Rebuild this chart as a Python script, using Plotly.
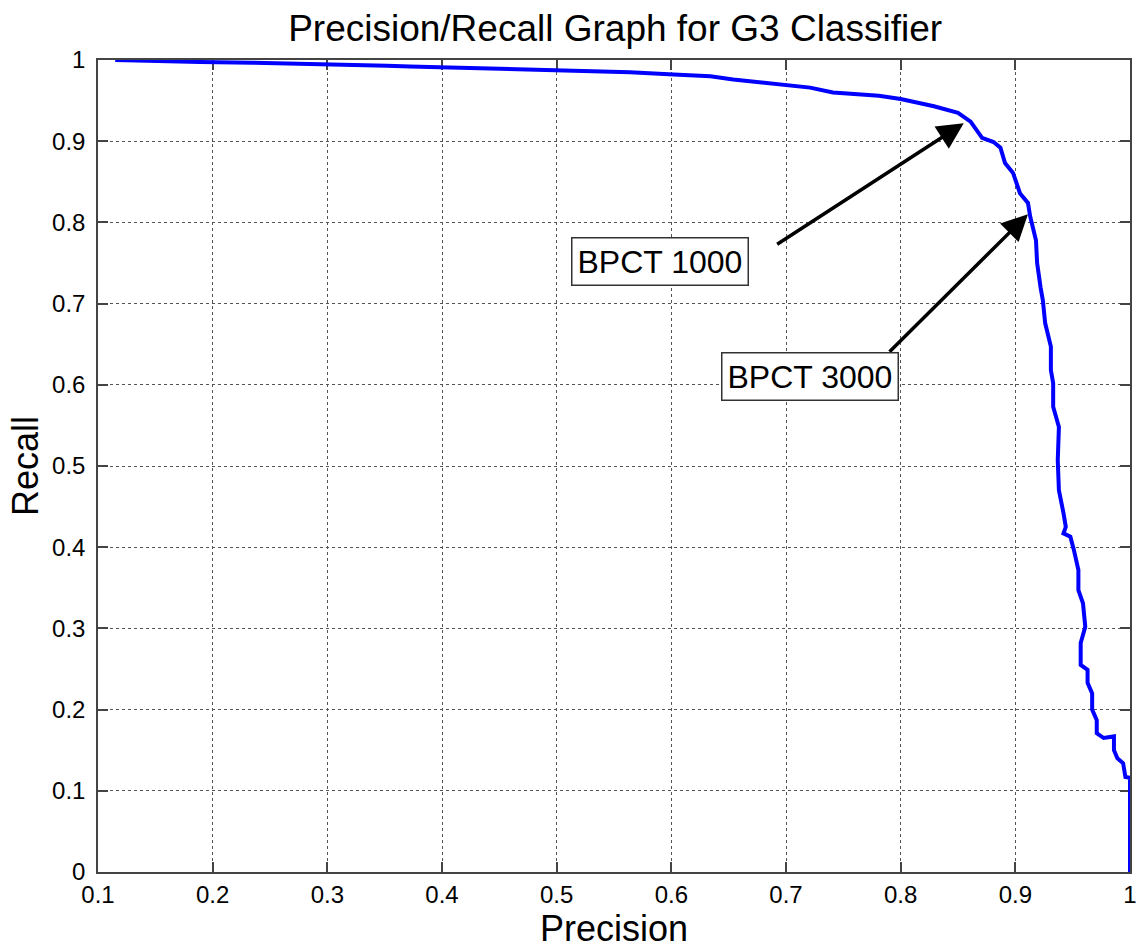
import plotly.graph_objects as go

precision = [0.115, 0.139, 0.189, 0.235, 0.285, 0.324, 0.352, 0.372, 0.401, 0.451,
             0.480, 0.514, 0.564, 0.602, 0.634, 0.654, 0.680, 0.701, 0.721, 0.741,
             0.781, 0.800, 0.829, 0.850, 0.861, 0.871, 0.881, 0.887, 0.891, 0.898,
             0.904, 0.911, 0.913, 0.918, 0.919, 0.922, 0.924, 0.926, 0.931, 0.931,
             0.933, 0.933, 0.938, 0.937, 0.938, 0.942, 0.944, 0.942, 0.948, 0.951,
             0.955, 0.955, 0.959, 0.961, 0.957, 0.957, 0.963, 0.963, 0.967, 0.967,
             0.971, 0.971, 0.977, 0.986, 0.986, 0.989, 0.994, 0.996, 1.0, 1.0]
recall = [1.0, 0.9988, 0.9975, 0.9966, 0.9954, 0.9942, 0.993, 0.992, 0.991, 0.990,
          0.988, 0.987, 0.985, 0.982, 0.980, 0.976, 0.972, 0.970, 0.966, 0.960,
          0.956, 0.952, 0.943, 0.935, 0.924, 0.904, 0.899, 0.892, 0.873, 0.861,
          0.836, 0.824, 0.807, 0.778, 0.750, 0.720, 0.704, 0.676, 0.647, 0.618,
          0.602, 0.573, 0.548, 0.507, 0.470, 0.442, 0.425, 0.417, 0.413, 0.397,
          0.372, 0.347, 0.331, 0.302, 0.282, 0.255, 0.249, 0.233, 0.220, 0.200,
          0.187, 0.171, 0.165, 0.167, 0.150, 0.140, 0.134, 0.117, 0.116, 0.0]

x_ticks = [0.1, 0.2, 0.3, 0.4, 0.5, 0.6, 0.7, 0.8, 0.9, 1.0]
x_tick_labels = ["0.1", "0.2", "0.3", "0.4", "0.5", "0.6", "0.7", "0.8", "0.9", "1"]
y_ticks = [0, 0.1, 0.2, 0.3, 0.4, 0.5, 0.6, 0.7, 0.8, 0.9, 1.0]
y_tick_labels = ["0", "0.1", "0.2", "0.3", "0.4", "0.5", "0.6", "0.7", "0.8", "0.9", "1"]

labels = ["BPCT 1000", "BPCT 3000"]
label_pos = [(0.590, 0.752), (0.721, 0.610)]
arrow_tail = [(0.691, 0.772), (0.789, 0.639)]
arrow_head = [(0.855, 0.922), (0.911, 0.810)]

FONT = "Liberation Sans, Arial, sans-serif"

fig = go.Figure()
fig.add_trace(go.Scatter(x=precision, y=recall, mode="lines",
                         line=dict(color="#0000FF", width=4), showlegend=False))

annotations = []
for (hx, hy), (tx, ty) in zip(arrow_head, arrow_tail):
    annotations.append(dict(x=hx, y=hy, ax=tx, ay=ty, xref="x", yref="y",
                            axref="x", ayref="y", text="", showarrow=True,
                            arrowhead=2, arrowsize=1.5, arrowwidth=3.5,
                            arrowcolor="black"))
for txt, (lx, ly) in zip(labels, label_pos):
    annotations.append(dict(x=lx, y=ly, xref="x", yref="y", text=txt,
                            showarrow=False, bgcolor="white",
                            bordercolor="#333333", borderwidth=1.5, borderpad=5,
                            font=dict(family=FONT, size=32, color="black")))

axis_common = dict(showline=True, linecolor="#444444", linewidth=1.5, mirror="ticks",
                   ticks="inside", ticklen=10, tickcolor="#444444", tickwidth=1.5,
                   showgrid=True, gridcolor="#555555", griddash="dot", gridwidth=1,
                   zeroline=False, layer="below traces", ticklabeloverflow="allow",
                   tickfont=dict(family=FONT, size=24, color="black"))

fig.update_layout(
    width=1137, height=949,
    paper_bgcolor="white", plot_bgcolor="white",
    margin=dict(l=98, r=0, t=60, b=77),
    title=dict(text="Precision/Recall Graph for G3 Classifier", x=0.541, xanchor="center",
               y=0.9705, yanchor="middle",
               font=dict(family=FONT, size=37, color="black")),
    xaxis=dict(range=[0.1, 1.0], tickvals=x_ticks, ticktext=x_tick_labels,
               title=dict(text="Precision", font=dict(family=FONT, size=36, color="black"),
                          standoff=6),
               **axis_common),
    yaxis=dict(range=[0, 1.0], tickvals=y_ticks, ticktext=y_tick_labels,
               ticklabelstandoff=6,
               title=dict(text="Recall", font=dict(family=FONT, size=36, color="black"),
                          standoff=2),
               **axis_common),
    annotations=annotations,
)

fig.write_html("out.html", config={"displayModeBar": False},
               post_script="document.body.style.margin='0';document.body.style.overflow='hidden';")
